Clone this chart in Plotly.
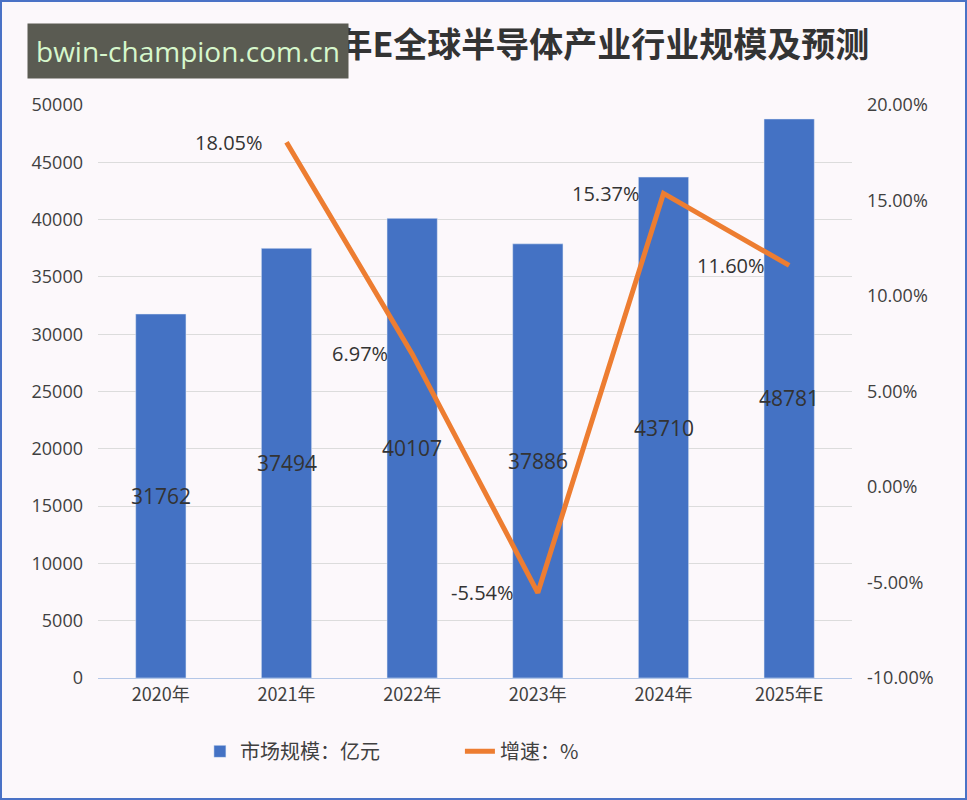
import plotly.graph_objects as go

categories = ["2020年", "2021年", "2022年", "2023年", "2024年", "2025年E"]
market_size = [31762, 37494, 40107, 37886, 43710, 48781]
growth = [None, 18.05, 6.97, -5.54, 15.37, 11.60]
left_ticks = [0, 5000, 10000, 15000, 20000, 25000, 30000, 35000, 40000, 45000, 50000]
right_ticks = [-10, -5, 0, 5, 10, 15, 20]

TXT = "#404040"
FONT = "Open Sans, Noto Sans CJK SC, sans-serif"
CJK = "Noto Sans CJK SC, sans-serif"

fig = go.Figure()
fig.add_trace(go.Bar(
    x=categories, y=market_size, name="市场规模：亿元",
    marker=dict(color="#4472c4"),
    width=0.4,
))
fig.add_trace(go.Scatter(
    x=categories, y=growth, name="增速：%", yaxis="y2",
    mode="lines",
    line=dict(color="#ed7d31", width=5),
))
# bar value labels, centred in each bar
for c, v in zip(categories, market_size):
    fig.add_annotation(x=c, y=v / 2, xref="x", yref="y", text=str(v),
                       showarrow=False, xanchor="center", yanchor="middle",
                       font=dict(size=21, color="#333333", family=FONT))
# growth labels, to the left of each point
for c, g in zip(categories, growth):
    if g is None:
        continue
    fig.add_annotation(x=c, y=g, xref="x", yref="y2", text=f"{g:.2f}%",
                       showarrow=False, xanchor="right", yanchor="middle",
                       xshift=-22, font=dict(size=20, color="#333333", family=FONT))

fig.update_layout(
    width=967, height=800,
    paper_bgcolor="#fcf8fb", plot_bgcolor="#fcf8fb",
    margin=dict(l=98, r=115, t=105, b=122),
    font=dict(family=FONT, color=TXT, size=18),
    title=dict(text="<b>2020-2025年E全球半导体产业行业规模及预测</b>",
               x=0.535, xanchor="center", y=0.944, yanchor="middle",
               font=dict(size=34, color="#333333", family=CJK)),
    xaxis=dict(showgrid=False, showline=True, linecolor="#b4c7e7", linewidth=1,
               tickfont=dict(size=18, color=TXT, family=CJK), ticks=""),
    yaxis=dict(range=[0, 50000], tickvals=left_ticks,
               ticktext=[str(t) for t in left_ticks], tickmode="array",
               gridcolor="#dcdcdc", zeroline=False,
               tickfont=dict(size=18, color=TXT), ticks="", ticklabelstandoff=14),
    yaxis2=dict(range=[-10, 20], tickvals=right_ticks, overlaying="y", side="right",
                showgrid=False, zeroline=False,
                ticktext=[f"{t:.2f}%" for t in right_ticks], tickmode="array",
                tickfont=dict(size=18, color=TXT), ticks="", ticklabelstandoff=14),
    legend=dict(orientation="h", x=0.480, xanchor="center", y=-0.128, yanchor="middle",
                entrywidth=215, font=dict(size=20, color=TXT, family=CJK)),
    showlegend=True,
)

# page border
fig.add_shape(type="rect", xref="paper", yref="paper", x0=-98/754, x1=1+115/754,
              y0=-122/573, y1=1+105/573, line=dict(color="#4a72c6", width=4))

# overlay watermark label seen in reference
fig.add_annotation(xref="paper", yref="paper", x=-71/754, y=1+(105-51)/573,
                   xanchor="left", yanchor="middle", showarrow=False,
                   text="bwin-champion.com.cn", bgcolor="#5a5b52", borderpad=8,
                   font=dict(size=28, color="#d6f7cc", family="Open Sans, sans-serif"))

fig.write_html("out.html")
